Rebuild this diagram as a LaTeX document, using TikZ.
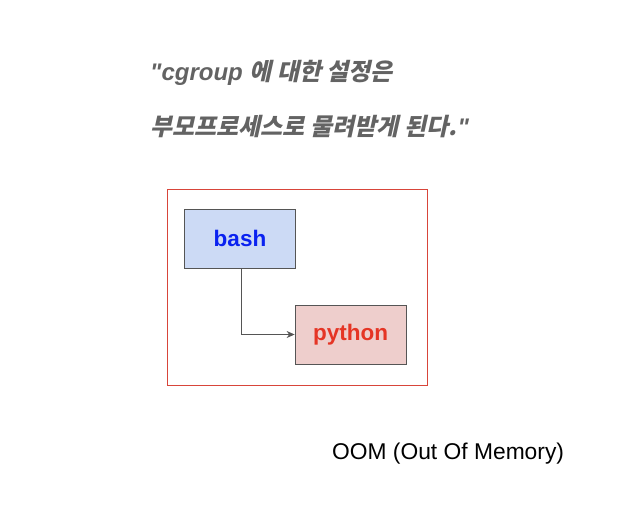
\documentclass[tikz,border=0pt]{standalone}
\usepackage{fontspec}
\usetikzlibrary{arrows.meta}
\setmainfont{Liberation Sans}
\newfontfamily\krfont[FakeSlant=0.22]{Noto Sans CJK KR}
\newfontfamily\latbi{Liberation Sans}[BoldItalicFont={* Bold Italic}]
\definecolor{titlegray}{HTML}{636363}
\definecolor{bashfill}{HTML}{CCDAF5}
\definecolor{bashtext}{HTML}{0A22F0}
\definecolor{pyfill}{HTML}{EECECC}
\definecolor{pytext}{HTML}{E53525}
\definecolor{boxline}{HTML}{555555}
\definecolor{outerred}{HTML}{D8453A}
\begin{document}
\begin{tikzpicture}[x=1pt,y=-1pt,
  procbox/.style={draw=boxline,line width=0.8pt,minimum width=111pt,minimum height=59pt,inner sep=0pt,font=\bfseries\fontsize{22.5}{26}\selectfont},
  titletext/.style={anchor=base west,inner sep=0pt,text=titlegray,font=\fontsize{24}{28}\selectfont},
  conn/.style={draw=boxline,line width=0.7pt,-{Stealth[length=8pt,width=7pt]}}]
\useasboundingbox (0,0) rectangle (624,520);
\node[titletext] (t1) at (150,80) {\latbi\bfseries\itshape "cgroup \krfont\bfseries 에 대한 설정은};
\node[titletext] (t2) at (150,135) {\krfont\bfseries 부모프로세스로 물려받게 된다.\latbi\bfseries\itshape\kern1pt"};
\node[draw=outerred,line width=0.8pt,minimum width=260pt,minimum height=196pt,inner sep=0pt] (outer) at (297,287) {};
\node[procbox,fill=bashfill,text=bashtext] (bash) at (240,238.5) {\raisebox{-1.5pt}{bash}};
\node[procbox,fill=pyfill,text=pytext] (python) at (350.5,334.5) {\raisebox{-1.5pt}{python}};
\draw[conn] (bash.south) ++(1,0) |- (python.west);
\node[anchor=west,inner sep=0pt,font=\fontsize{22.8}{26}\selectfont] (oom) at (332,453.5) {OOM (Out Of Memory)};
\end{tikzpicture}
\end{document}
